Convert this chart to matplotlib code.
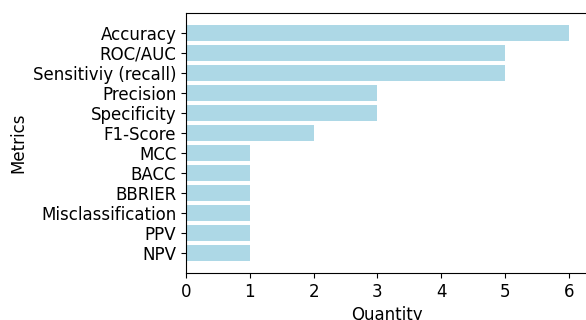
import matplotlib
matplotlib.use('Agg')
import matplotlib.pyplot as plt

# metrici si numar de aparitii
metrics = ['Accuracy', 'ROC/AUC', 'Sensitiviy (recall)', 'Precision', 'Specificity',
           'F1-Score', 'MCC', 'BACC', 'BBRIER', 'Misclassification', 'PPV', 'NPV']
quantity = [6, 5, 5, 3, 3, 2, 1, 1, 1, 1, 1, 1]

fig = plt.figure(figsize=(5.86, 3.2), dpi=100)
ax = fig.add_axes([0.3174, 0.147, 0.686, 0.812])

ax.barh(metrics[::-1], quantity[::-1], color='lightblue')
ax.set_xlabel('Quantity', fontsize=12)
ax.set_ylabel('Metrics', fontsize=12)
ax.tick_params(axis='both', labelsize=12)

fig.savefig('out.png', dpi=100)
